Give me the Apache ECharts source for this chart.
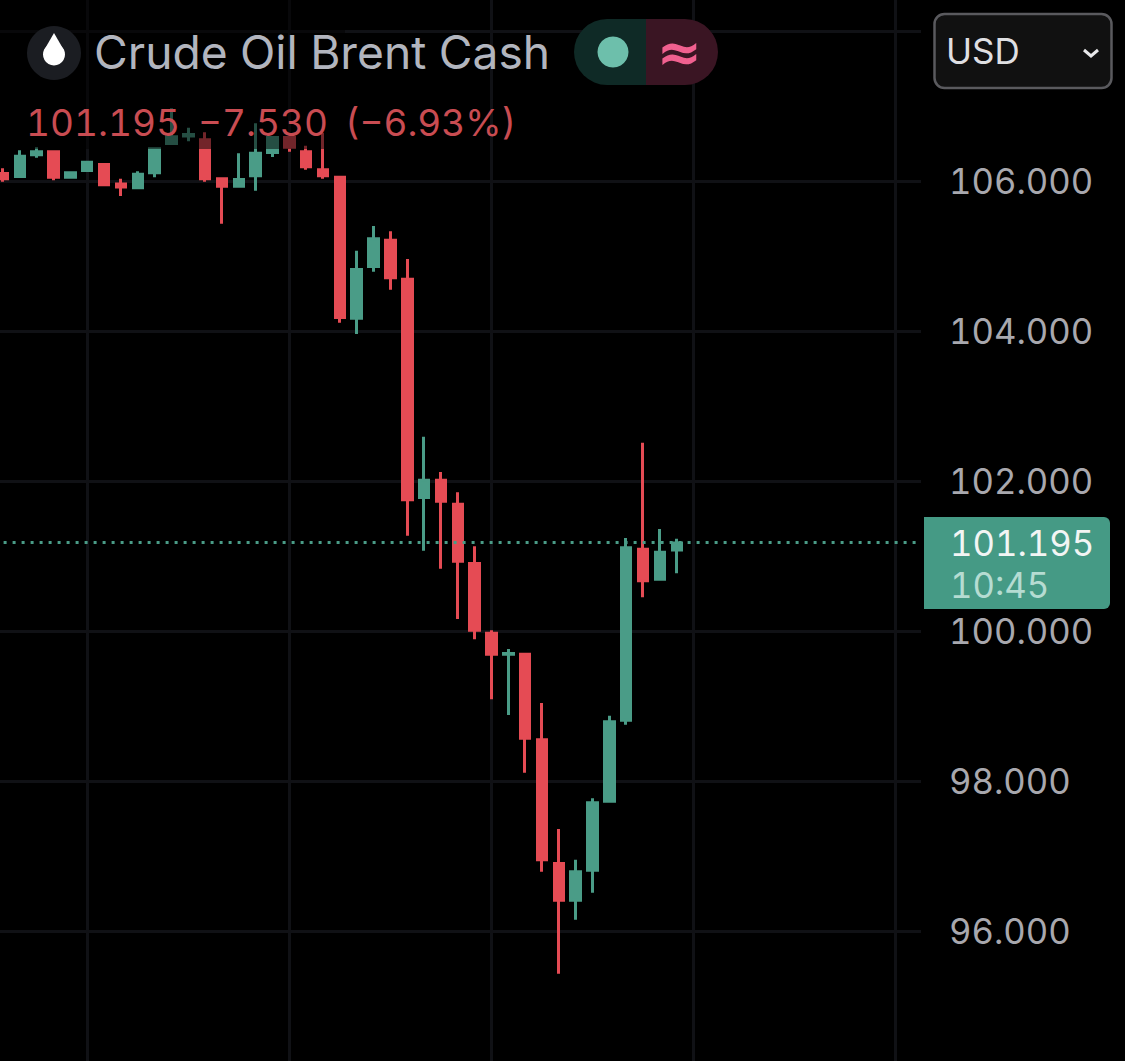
<!DOCTYPE html>
<html>
<head>
<meta charset="utf-8">
<style>html,body{margin:0;padding:0;background:#000;}#c{width:1125px;height:1061px;}
svg text{font-feature-settings:"tnum" 1 !important;font-variant-numeric:tabular-nums !important;}</style>
<script src="https://cdn.jsdelivr.net/npm/echarts@6/dist/echarts.min.js"></script>
</head>
<body>
<div id="c"></div>
<script>
const titleText = 'Crude Oil Brent Cash';
const quoteLast = '101.195';
const quoteChange = '\u22127.530';
const quotePercent = '(\u22126.93%)';
const currency = 'USD';
const lastPrice = 101.195;
const countdown = '10:45';
const slotCount = 55;
const open  = [106.12,106.04,106.33,106.41,106.03,106.12,106.24,105.96,105.89,106.09,106.48,106.60,106.57,106.05,105.91,106.05,106.36,106.60,106.41,106.17,106.07,104.15,104.84,105.23,104.71,101.76,102.03,101.71,100.92,99.99,99.67,99.71,98.57,96.92,96.39,96.79,97.71,98.79,101.11,100.67,101.06];
const close = [106.01,106.35,106.41,106.03,106.13,106.27,105.93,105.92,106.11,106.45,106.61,106.62,106.01,105.91,106.04,106.39,106.60,106.43,106.17,106.05,104.16,104.84,105.25,104.69,101.73,102.03,101.71,100.91,99.99,99.67,99.72,98.55,96.93,96.39,96.81,97.73,98.81,101.13,100.65,101.07,101.195];
const low   = [105.99,106.04,106.31,106.01,106.03,106.12,105.93,105.80,105.89,106.05,106.48,106.53,105.99,105.43,105.91,105.87,106.32,106.39,106.15,106.03,104.11,103.96,104.79,104.55,101.27,101.07,100.83,100.16,99.89,99.09,98.88,98.11,96.79,95.43,96.15,96.51,97.71,98.75,100.45,100.67,100.77];
const high  = [106.17,106.41,106.45,106.41,106.13,106.27,106.24,106.03,106.13,106.45,106.97,106.71,106.65,106.05,106.37,106.77,106.60,106.60,106.47,106.64,106.07,105.07,105.40,105.33,104.96,102.59,102.12,101.85,101.13,100.01,99.76,99.71,99.04,97.36,96.95,97.77,98.87,101.24,102.51,101.36,101.23];
const categories = [];
for (let i = 0; i < slotCount; i++) categories.push(String(i));
// The body stroke adds half its width outside open/close; pull the drawn body in by that much so its edge sits on the value.
const strokeInset = 0.02;
const candles = open.map((o, i) => {
  const c = close[i];
  const d = Math.abs(c - o) > 2 * strokeInset ? strokeInset * Math.sign(c - o) : 0;
  return [o + d, c - d, low[i], high[i]];
});

const UP = '#4a9c87', DOWN = '#e54b54', GRID = '#101115';
const FONT = 'Inter, "Noto Sans", sans-serif';

const chart = echarts.init(document.getElementById('c'), null, {renderer: 'svg'});
chart.setOption({
  backgroundColor: '#000',
  animation: false,
  grid: {left: -5.4, top: -6.5, width: 926.4, height: 1087.5, containLabel: false, outerBoundsMode: 'none'},
  xAxis: {
    type: 'category', data: categories, boundaryGap: true,
    axisLine: {show: false}, axisTick: {show: false}, axisLabel: {show: false},
    splitLine: {show: true, alignWithLabel: true, interval: (i) => (i - 5) % 12 === 0,
      lineStyle: {color: GRID, width: 3}}
  },
  yAxis: {
    type: 'value', position: 'right', min: 94, max: 108.5, interval: 2, scale: true,
    axisLine: {show: false}, axisTick: {show: false},
    axisLabel: {
      margin: 28, color: '#a8a8ae', fontFamily: FONT, fontSize: 34.7,
      formatter: (v) => (v >= 108 || v <= 94) ? '' : v.toFixed(3)
    },
    splitLine: {show: true, lineStyle: {color: GRID, width: 3}}
  },
  series: [{
    type: 'candlestick', data: candles, barWidth: 10,
    itemStyle: {color: UP, color0: DOWN, borderColor: UP, borderColor0: DOWN, borderWidth: 3},
    markLine: {
      silent: true, symbol: 'none', animation: false, label: {show: false},
      lineStyle: {color: UP, type: [3, 6], width: 3},
      data: [{yAxis: lastPrice}]
    }
  }],
  graphic: [
    {type: 'rect', z: 100, shape: {x: 0, y: 0, width: 345, height: 149}, style: {fill: 'rgba(0,0,0,0.5)'}},
    {type: 'circle', z: 101, shape: {cx: 54, cy: 53, r: 27}, style: {fill: '#1b1d22'}},
    {type: 'circle', z: 102, shape: {cx: 54, cy: 54.5, r: 11}, style: {fill: '#fff'}},
    {type: 'polygon', z: 102, shape: {points: [[54, 33], [43.6, 51], [64.4, 51]]}, style: {fill: '#fff'}},
    {type: 'text', z: 102, x: 94, y: 52, style: {text: titleText, fill: '#b2b5be', font: '46.2px ' + FONT, textVerticalAlign: 'middle'}},
    {type: 'text', z: 102, x: 26, y: 122, style: {text: quoteLast, fill: '#c94c52', font: '37px ' + FONT, textVerticalAlign: 'middle'}},
    {type: 'text', z: 102, x: 198, y: 122, style: {text: quoteChange, fill: '#c94c52', font: '37px ' + FONT, textVerticalAlign: 'middle'}},
    {type: 'text', z: 102, x: 345, y: 122, style: {text: quotePercent, fill: '#c94c52', font: '37px ' + FONT, textVerticalAlign: 'middle'}},
    {type: 'rect', z: 101, shape: {x: 574, y: 19, width: 72, height: 66, r: [33, 0, 0, 33]}, style: {fill: '#0f2a26'}},
    {type: 'rect', z: 101, shape: {x: 646, y: 19, width: 72, height: 66, r: [0, 33, 33, 0]}, style: {fill: '#3a1523'}},
    {type: 'circle', z: 102, shape: {cx: 613, cy: 52, r: 15.5}, style: {fill: '#6dbfab'}},
    {type: 'text', z: 102, x: 679, y: 52, style: {text: '\u2248', fill: '#f0608f', font: 'bold 54px "DejaVu Sans", sans-serif', textAlign: 'center', textVerticalAlign: 'middle'}},
    {type: 'rect', z: 101, shape: {x: 934.5, y: 14, width: 177, height: 74, r: 10}, style: {fill: '#111', stroke: '#5a5a5e', lineWidth: 2.5}},
    {type: 'text', z: 102, x: 946, y: 51, style: {text: currency, fill: '#dfdfe2', font: '35px ' + FONT, textVerticalAlign: 'middle'}},
    {type: 'polyline', z: 102, shape: {points: [[1084, 50], [1091, 56], [1098, 50]]}, style: {stroke: '#e8e8ea', fill: 'none', lineWidth: 3}},
    {type: 'rect', z: 101, shape: {x: 924, y: 517, width: 186, height: 92, r: [0, 6, 6, 0]}, style: {fill: '#459a85'}},
    {type: 'text', z: 102, x: 950, y: 543, style: {text: lastPrice.toFixed(3), fill: '#f2f5f4', font: '34.7px ' + FONT, textVerticalAlign: 'middle'}},
    {type: 'text', z: 102, x: 950, y: 585, style: {text: countdown, fill: '#b5dcd2', font: '34.7px ' + FONT, textVerticalAlign: 'middle'}}
  ]
});
</script>
</body>
</html>
